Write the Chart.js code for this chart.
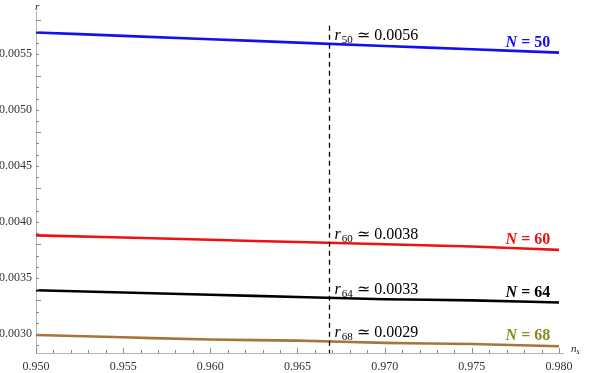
<!DOCTYPE html>
<html>
<head>
<meta charset="utf-8">
<script src="https://cdn.jsdelivr.net/npm/chart.js@4.4.0/dist/chart.umd.min.js"></script>
<style>
  html, body { margin: 0; padding: 0; background: #fff; }
</style>
</head>
<body>
<canvas id="chart" width="590" height="373"></canvas>
<script>
const nsValues = [0.950, 0.955, 0.960, 0.965, 0.970, 0.975, 0.980];
const rN50 = [0.00569, 0.00566, 0.00563, 0.00560, 0.00557, 0.00554, 0.00551];
const rN60 = [0.00388, 0.00386, 0.00384, 0.00382, 0.00380, 0.00378, 0.00375];
const rN64 = [0.00339, 0.00337, 0.00335, 0.00333, 0.00331, 0.00330, 0.00328];
const rN68 = [0.00299, 0.00297, 0.00295, 0.00294, 0.00292, 0.00291, 0.00289];

const xTicks = [0.950, 0.955, 0.960, 0.965, 0.970, 0.975, 0.980];
const yTicks = [0.0030, 0.0035, 0.0040, 0.0045, 0.0050, 0.0055];

const nLabels = ["50", "60", "64", "68"];
const rMarks = ["0.0056", "0.0038", "0.0033", "0.0029"];
const nsMark = 0.9668;

const lineColors = ["#1010f0", "#f01010", "#000000", "#a8743c"];
const textColors = ["#1010f0", "#f01010", "#000000", "#8b8a1e"];

const FONT = '"Liberation Serif", "DejaVu Serif", serif';
Chart.defaults.font.family = FONT;

const series = [rN50, rN60, rN64, rN68];

function valueAt(arr, x) {
  for (let i = 0; i < nsValues.length - 1; i++) {
    if (x >= nsValues[i] && x <= nsValues[i + 1]) {
      const t = (x - nsValues[i]) / (nsValues[i + 1] - nsValues[i]);
      return arr[i] + t * (arr[i + 1] - arr[i]);
    }
  }
  return arr[arr.length - 1];
}

const extras = {
  id: "extras",
  afterDraw(chart) {
    const { ctx, chartArea: a, scales: { x, y } } = chart;
    ctx.save();

    // inward tick marks
    ctx.strokeStyle = "#888";
    ctx.lineWidth = 1;
    ctx.beginPath();
    for (let i = 0; i <= 30; i++) {
      const v = 0.950 + i * 0.001;
      const px = Math.round(x.getPixelForValue(v)) + 0.5;
      const len = i % 5 === 0 ? 5 : 3;
      ctx.moveTo(px, a.bottom);
      ctx.lineTo(px, a.bottom - len);
    }
    for (let i = 0; i <= 30; i++) {
      const v = 0.0029 + i * 0.0001;
      if (v > y.max) break;
      const py = Math.round(y.getPixelForValue(v)) + 0.5;
      const len = (i + 1) % 5 === 0 ? 5 : 3;
      ctx.moveTo(a.left, py);
      ctx.lineTo(a.left + len, py);
    }
    ctx.stroke();

    // dashed marker line
    const dx = Math.round(x.getPixelForValue(nsMark)) + 0.5;
    ctx.strokeStyle = "#000";
    ctx.lineWidth = 1.3;
    ctx.setLineDash([5, 4]);
    ctx.beginPath();
    ctx.moveTo(dx, y.getPixelForValue(0.00575));
    ctx.lineTo(dx, a.bottom);
    ctx.stroke();
    ctx.setLineDash([]);

    // r labels next to the dashed line
    ctx.textBaseline = "alphabetic";
    ctx.textAlign = "left";
    series.forEach((arr, i) => {
      const by = y.getPixelForValue(valueAt(arr, nsMark)) - 4;
      let px = dx + 5;
      ctx.fillStyle = "#000";
      ctx.font = "italic 16px " + FONT;
      ctx.fillText("r", px, by);
      px += ctx.measureText("r").width + 1;
      ctx.font = "11px " + FONT;
      ctx.fillText(nLabels[i], px, by + 3);
      px += ctx.measureText(nLabels[i]).width;
      ctx.font = "16px " + FONT;
      ctx.fillText(" \u2243 " + rMarks[i], px, by);
    });

    // N = .. labels at the right
    series.forEach((arr, i) => {
      const by = y.getPixelForValue(arr[arr.length - 1]) - 6;
      const right = x.getPixelForValue(0.9795);
      ctx.font = "bold italic 16px " + FONT;
      const wN = ctx.measureText("N").width;
      ctx.font = "bold 16px " + FONT;
      const rest = " = " + nLabels[i];
      const wR = ctx.measureText(rest).width;
      ctx.fillStyle = textColors[i];
      ctx.font = "bold italic 16px " + FONT;
      ctx.fillText("N", right - wN - wR, by);
      ctx.font = "bold 16px " + FONT;
      ctx.fillText(rest, right - wR, by);
    });

    // axis titles
    ctx.fillStyle = "#222";
    ctx.font = "italic 11px " + FONT;
    ctx.fillText("r", a.left - 1, a.top - 1);
    ctx.fillText("n", a.right + 8, a.bottom - 1);
    const wn = ctx.measureText("n").width;
    ctx.font = "italic 8px " + FONT;
    ctx.fillText("s", a.right + 8 + wn, a.bottom + 1);

    ctx.restore();
  }
};

new Chart(document.getElementById("chart"), {
  type: "line",
  data: {
    datasets: series.map((arr, i) => ({
      label: "N = " + nLabels[i],
      data: nsValues.map((v, j) => ({ x: v, y: arr[j] })),
      borderColor: lineColors[i],
      borderWidth: 2.6,
      pointRadius: 0,
      fill: false,
      cubicInterpolationMode: "monotone"
    }))
  },
  options: {
    responsive: false,
    animation: false,
    layout: { padding: { top: 10, right: 27, left: 0, bottom: 0 } },
    plugins: { legend: { display: false }, tooltip: { enabled: false } },
    scales: {
      x: {
        type: "linear",
        min: 0.950,
        max: 0.98023,
        grid: { display: false, drawTicks: false },
        border: { display: true, color: "#b4b4b4", width: 1 },
        afterBuildTicks: s => { s.ticks = xTicks.map(v => ({ value: v })); },
        afterFit: s => { s.height = 20; },
        ticks: {
          padding: 7,
          color: "#333",
          font: { size: 12 },
          maxRotation: 0,
          callback: v => v.toFixed(3)
        }
      },
      y: {
        type: "linear",
        min: 0.00283,
        max: 0.00588,
        grid: { display: false, drawTicks: false },
        border: { display: true, color: "#b4b4b4", width: 1 },
        afterBuildTicks: s => { s.ticks = yTicks.map(v => ({ value: v })); },
        afterFit: s => { s.width = 36; },
        ticks: {
          padding: 4,
          color: "#333",
          font: { size: 12 },
          callback: v => v.toFixed(4)
        }
      }
    }
  },
  plugins: [extras]
});
</script>
</body>
</html>
